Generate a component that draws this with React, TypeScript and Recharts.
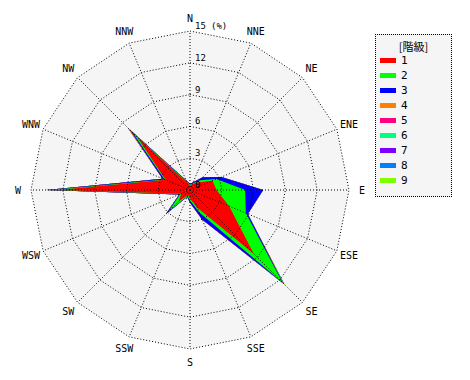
import React from 'react';
import { RadarChart, Radar, PolarGrid, PolarAngleAxis, PolarRadiusAxis } from 'recharts';

// 16 compass directions, clockwise from north
const directions = ['N', 'NNE', 'NE', 'ENE', 'E', 'ESE', 'SE', 'SSE', 'S', 'SSW', 'SW', 'WSW', 'W', 'WNW', 'NW', 'NNW'];

// frequency (%) per speed class, not cumulative
const class1 = [0.4, 0.6, 1.0, 2.3, 2.5, 4.0, 8.5, 1.8, 0.8, 0.5, 1.5, 0.9, 12.5, 2.5, 7.0, 0.8];
const class2 = [0.1, 0.1, 0.3, 0.4, 2.7, 1.7, 3.8, 0.5, 0.2, 0.1, 1.3, 0.1, 0.6, 0.1, 0.6, 0.1];
const class3 = [0.1, 0.1, 0.4, 0.5, 1.7, 0.2, 0.1, 0.7, 0.2, 0.1, 0.4, 0.1, 0.4, 0.2, 0.4, 0.1];
const class4 = [0, 0, 0, 0, 0, 0, 0.05, 0, 0, 0, 0, 0, 0.05, 0, 0.3, 0];
const class5 = [0, 0, 0, 0, 0, 0, 0.05, 0, 0, 0, 0, 0, 0, 0, 0, 0];
const class6 = [0, 0, 0, 0, 0, 0, 0.05, 0, 0, 0, 0, 0, 0, 0, 0, 0];
const class7 = [0, 0, 0, 0, 0, 0, 0, 0, 0, 0, 0, 0, 0, 0, 0, 0];
const class8 = [0, 0, 0, 0, 0, 0, 0.05, 0, 0, 0, 0, 0, 0, 0, 0, 0];
const class9 = [0, 0, 0, 0, 0, 0, 0.15, 0, 0, 0, 0, 0, 0, 0, 0, 0];

const classLabels = ['1', '2', '3', '4', '5', '6', '7', '8', '9'];
const classColors = ['#ff0000', '#00ff00', '#0000ff', '#ff8000', '#ff0080', '#00ff80', '#8000ff', '#0080ff', '#80ff00'];
const radiusTicks = [0, 3, 6, 9, 12, 15];

const classes = [class1, class2, class3, class4, class5, class6, class7, class8, class9];
const maxValue = radiusTicks[radiusTicks.length - 1];

// stacked (cumulative) rows so the larger classes sit behind
const data = directions.map((dir, i) => {
  const row: any = { dir, bg: maxValue };
  let sum = 0;
  classes.forEach((c, k) => {
    sum += c[i];
    row['c' + (k + 1)] = +sum.toFixed(2);
  });
  return row;
});

const CX = 190;
const CY = 190;
const OUTER = 159;
const LABEL_R = 172;

const AngleTick = (props: any) => {
  const { x, y, payload } = props;
  const ang = Math.atan2(y - CY, x - CX);
  const lx = CX + LABEL_R * Math.cos(ang);
  const ly = CY + LABEL_R * Math.sin(ang);
  return (
    <text x={lx} y={ly} textAnchor="middle" dominantBaseline="central" fontSize={10} fontFamily="DejaVu Sans Mono" fill="#000">
      {payload.value}
    </text>
  );
};

const RadiusTick = (props: any) => {
  const { x, y, payload } = props;
  return (
    <g>
      <text x={x + 5} y={y - 2} fontSize={9} fontFamily="DejaVu Sans Mono" fill="#000">
        {payload.value}
      </text>
      {payload.value === maxValue && (
        <text x={x + 21} y={y - 2} fontSize={9} fontFamily="DejaVu Sans Mono" fill="#000">(%)</text>
      )}
    </g>
  );
};

const reversed = [...classColors.keys()].reverse();

export default function App() {
  return (
    <div style={{ position: 'absolute', left: 0, top: 0, width: 470, height: 380, background: '#fff' }}>
      <RadarChart width={470} height={380} data={data} cx={CX} cy={CY} outerRadius={OUTER} startAngle={90} endAngle={-270}>
        <Radar dataKey="bg" fill="#f5f5f5" fillOpacity={1} stroke="none" isAnimationActive={false} dot={false} />
        {reversed.map((k) => (
          <Radar
            key={k}
            dataKey={'c' + (k + 1)}
            fill={classColors[k]}
            fillOpacity={1}
            stroke="none"
            isAnimationActive={false}
            dot={false}
          />
        ))}
        <PolarGrid gridType="polygon" stroke="#000" strokeDasharray="1 2" zIndex={1000} />
        <PolarAngleAxis dataKey="dir" tick={<AngleTick />} axisLine={false} tickLine={false} />
        <PolarRadiusAxis
          angle={90}
          domain={[0, maxValue]}
          ticks={radiusTicks as any}
          tickCount={6}
          tick={<RadiusTick />}
          axisLine={false}
          tickLine={false}
        />
      </RadarChart>
      <div
        style={{
          position: 'absolute',
          left: 375,
          top: 34,
          width: 75,
          height: 161,
          background: '#f5f5f5',
          border: '1px dotted #000',
          fontFamily: 'DejaVu Sans Mono',
          fontSize: 11,
        }}
      >
        <div style={{ position: 'absolute', top: 3, left: 0, width: 75, textAlign: 'center', fontFamily: 'Noto Sans CJK JP', fontSize: 11 }}>
          [階級]
        </div>
        {classLabels.map((lab, k) => (
          <div key={lab} style={{ position: 'absolute', left: 4, top: 19 + k * 15, height: 12, display: 'flex', alignItems: 'center' }}>
            <span style={{ display: 'inline-block', width: 16, height: 5, background: classColors[k], marginRight: 5 }} />
            <span>{lab}</span>
          </div>
        ))}
      </div>
    </div>
  );
}
